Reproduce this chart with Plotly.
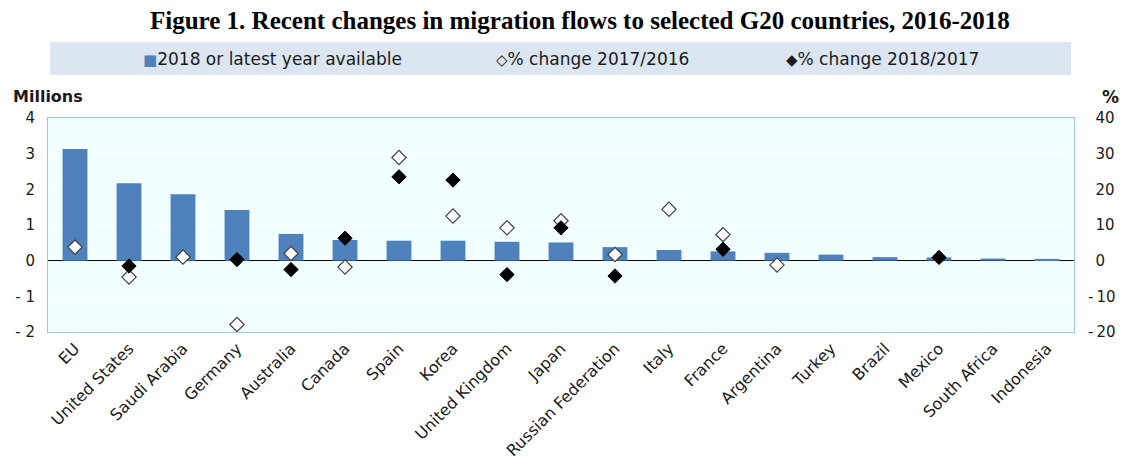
import plotly.graph_objects as go

countries = ["EU", "United States", "Saudi Arabia", "Germany", "Australia", "Canada", "Spain",
             "Korea", "United Kingdom", "Japan", "Russian Federation", "Italy", "France",
             "Argentina", "Turkey", "Brazil", "Mexico", "South Africa", "Indonesia"]
flows_2018 = [3.13, 2.17, 1.86, 1.42, 0.75, 0.58, 0.56, 0.56, 0.53, 0.51, 0.38, 0.30, 0.26,
              0.22, 0.17, 0.10, 0.09, 0.06, 0.05]
chg_2017_2016 = [3.8, -4.6, 1.0, -17.9, 2.0, -1.8, 28.9, 12.5, 9.2, 11.2, 1.7, 14.4, 7.3,
                 -1.2, None, None, None, None, None]
chg_2018_2017 = [None, -1.5, None, 0.3, -2.5, 6.3, 23.5, 22.6, -3.9, 9.2, -4.3, None, 3.2,
                 None, None, None, 0.9, None, None]

left_ticks = [-2, -1, 0, 1, 2, 3, 4]
left_text = ["- 2", "- 1", "0", "1", "2", "3", "4"]
right_ticks = [-20, -10, 0, 10, 20, 30, 40]
right_text = ["-\u200920", "-\u200910", "\u20020", "\u200210", "\u200220", "\u200230", "\u200240"]

BAR = "#4f81bd"
SANS = "Tahoma, DejaVu Sans, sans-serif"
TICKF = dict(family=SANS, size=15, color="#1a1a1a")

fig = go.Figure()
fig.add_trace(go.Bar(x=countries, y=flows_2018, marker=dict(color=BAR, line=dict(width=0)),
                     width=0.46, name="2018 or latest year available"))
fig.add_trace(go.Scatter(x=countries, y=chg_2017_2016, mode="markers", yaxis="y2",
                         marker=dict(symbol="diamond", size=11, color="white",
                                     line=dict(color="#404040", width=1.2)),
                         name="% change 2017/2016"))
fig.add_trace(go.Scatter(x=countries, y=chg_2018_2017, mode="markers", yaxis="y2",
                         marker=dict(symbol="diamond", size=11, color="black",
                                     line=dict(color="black", width=1)),
                         name="% change 2018/2017"))

OFF = 8  # page body margin
W, H = 1127 - OFF, 461 - OFF
L, T = 48 - OFF, 118 - OFF
R = W - (1074 - OFF)
B = H - (332 - OFF)
pw, ph = W - L - R, H - T - B

def px_x(x):
    return (x - OFF - L) / pw

def px_y(y):
    return (H - B - (y - OFF)) / ph

fig.update_layout(
    width=W, height=H,
    margin=dict(l=L, r=R, t=T, b=B, autoexpand=False),
    paper_bgcolor="white",
    plot_bgcolor="#f2ffff",
    showlegend=False,
    xaxis=dict(type="category", tickangle=-45, showgrid=False, ticks="",
               tickfont=dict(family=SANS, size=16, color="#1a1a1a"),
               showline=True, linecolor="#9dc3e6", linewidth=1, mirror=True,
               range=[-0.5, len(countries) - 0.5]),
    yaxis=dict(range=[-2, 4], tickvals=left_ticks, ticktext=left_text, tickfont=TICKF,
               showgrid=True, gridcolor="#ffffff", gridwidth=1, ticklabelstandoff=9,
               zeroline=True, zerolinecolor="black", zerolinewidth=1.3,
               showline=True, linecolor="#9dc3e6", linewidth=1, mirror=True, ticks=""),
    yaxis2=dict(range=[-20, 40], tickvals=right_ticks, ticktext=right_text, tickfont=TICKF,
                overlaying="y", side="right", showgrid=False, zeroline=False, ticks="",
                ticklabelstandoff=13),
)

# Title
fig.add_annotation(text="<b>Figure 1. Recent changes in migration flows to selected G20 countries, 2016-2018</b>",
                   xref="paper", yref="paper", x=px_x(580), y=px_y(20), xanchor="center", yanchor="middle",
                   showarrow=False, font=dict(family="Liberation Serif, Times New Roman, serif", size=25, color="black"))

# Legend box
fig.add_shape(type="rect", xref="paper", yref="paper", x0=px_x(50), x1=px_x(1071), y0=px_y(75), y1=px_y(42),
              fillcolor="#dce6f2", line=dict(width=0), layer="below")
LEGF = dict(family=SANS, size=17, color="#1a1a1a")
fig.add_annotation(text="<span style='color:%s;font-size:15px'>■</span>2018 or latest year available" % BAR,
                   xref="paper", yref="paper", x=px_x(141), y=px_y(59), xanchor="left", yanchor="middle",
                   showarrow=False, font=LEGF)
fig.add_annotation(text="<span style='font-size:15px'>◇</span>% change 2017/2016",
                   xref="paper", yref="paper", x=px_x(494), y=px_y(59), xanchor="left", yanchor="middle",
                   showarrow=False, font=LEGF)
fig.add_annotation(text="<span style='font-size:15px'>◆</span>% change 2018/2017",
                   xref="paper", yref="paper", x=px_x(784), y=px_y(59), xanchor="left", yanchor="middle",
                   showarrow=False, font=LEGF)

# Axis unit labels
fig.add_annotation(text="<b>Millions</b>", xref="paper", yref="paper", x=px_x(11), y=px_y(96),
                   xanchor="left", yanchor="middle", showarrow=False,
                   font=dict(family=SANS, size=16, color="#1a1a1a"))
fig.add_annotation(text="<b>%</b>", xref="paper", yref="paper", x=px_x(1110), y=px_y(97),
                   xanchor="center", yanchor="middle", showarrow=False,
                   font=dict(family=SANS, size=17, color="#1a1a1a"))

fig.write_html("out.html")
